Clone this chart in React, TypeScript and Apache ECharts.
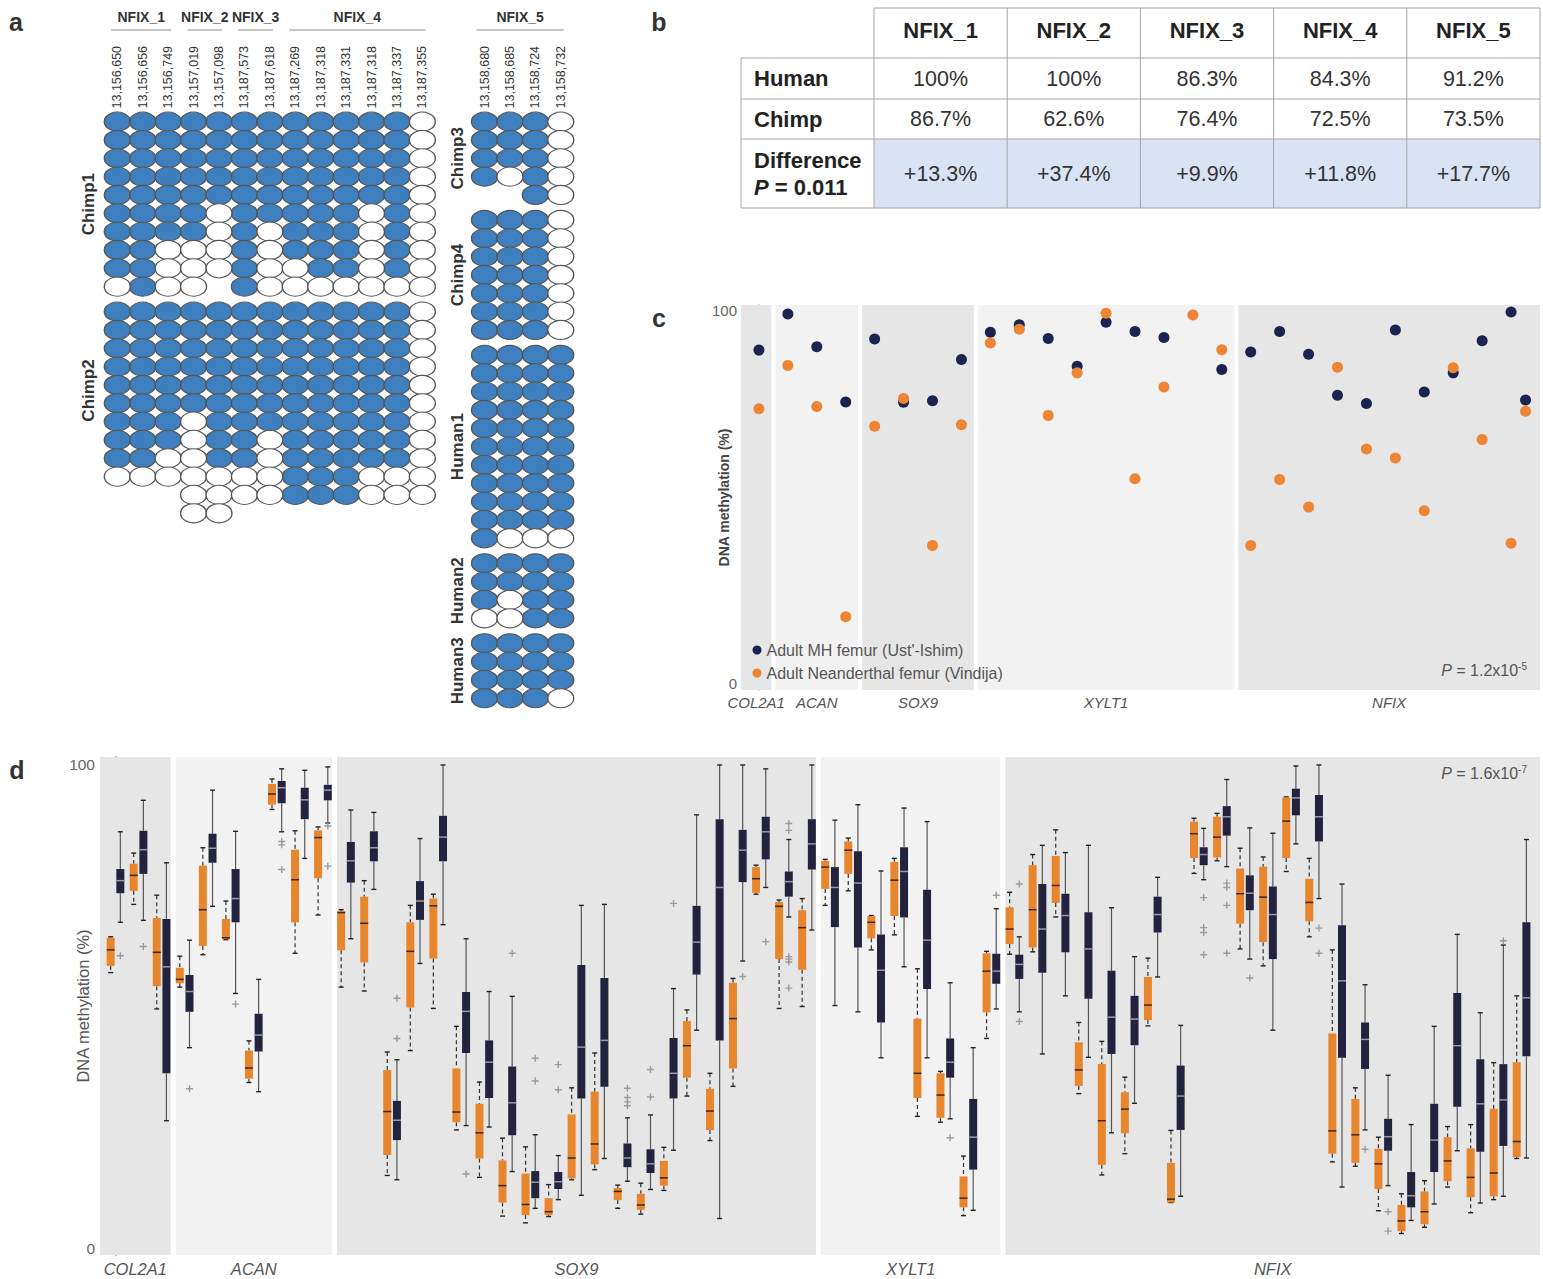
import { useEffect, useRef } from 'react';
import * as echarts from 'echarts';

const FONT = '"Liberation Sans", Arial, Helvetica, sans-serif';

// ---------------- Panel a : bisulfite clone data ----------------
const leftPositions = ['13,156,650', '13,156,656', '13,156,749', '13,157,019', '13,157,098', '13,187,573', '13,187,618', '13,187,269', '13,187,318', '13,187,331', '13,187,318', '13,187,337', '13,187,355'];
const rightPositions = ['13,158,680', '13,158,685', '13,158,724', '13,158,732'];
const leftRegions = ['NFIX_1', 'NFIX_2', 'NFIX_3', 'NFIX_4'];
const leftRegionCols = [[0, 2], [3, 4], [5, 6], [7, 12]];
const rightRegion = 'NFIX_5';
const leftSamples = ['Chimp1', 'Chimp2'];
const rightSamples = ['Chimp3', 'Chimp4', 'Human1', 'Human2', 'Human3'];
// 1 = methylated, 0 = unmethylated, x = no read
const chimp1 = ['1111111111110', '1111111111110', '1111111111110', '1111111111110', '1111111111110', '1111011111010', '1111010111010', '1100010111010', '1100010011010', '0100x10000000'];
const chimp2 = ['1111111111110', '1111111111110', '1111111111110', '1111111111110', '1111111111110', '1111111111110', '1110111111110', '1110110111110', '1100110111110', '0000000111000', 'xxx0000111000', 'xxx00xxxxxxxx'];
const chimp3 = ['1110', '1110', '1110', '1010', 'xx10'];
const chimp4 = ['1110', '1110', '1110', '1110', '1110', '1110', '1110'];
const human1 = ['1111', '1111', '1111', '1111', '1111', '1111', '1111', '1111', '1111', '1111', '1000'];
const human2 = ['1111', '1111', '1011', '0011'];
const human3 = ['1111', '1111', '1111', '1110'];

// ---------------- Panel b : table ----------------
const tableColumns = ['NFIX_1', 'NFIX_2', 'NFIX_3', 'NFIX_4', 'NFIX_5'];
const humanPct = ['100%', '100%', '86.3%', '84.3%', '91.2%'];
const chimpPct = ['86.7%', '62.6%', '76.4%', '72.5%', '73.5%'];
const diffPct = ['+13.3%', '+37.4%', '+9.9%', '+11.8%', '+17.7%'];
const diffP = '0.011';

// ---------------- Panel c ----------------
const cGenes = ['COL2A1', 'ACAN', 'SOX9', 'XYLT1', 'NFIX'];
const cGeneLastPos = [0, 3, 7, 16, 26.5];
const cPositions = [0, 1, 2, 3, 4, 5, 6, 7, 8, 9, 10, 11, 12, 13, 14, 15, 16, 17, 18, 19, 20, 21, 22, 23, 24, 25, 26, 26.5];
const mhFemur = [89.4, 99.1, 90.3, 75.5, 92.4, 75.4, 75.8, 86.9, 94.2, 96.2, 92.5, 85.1, 96.9, 94.4, 92.8, null, 84.2, 88.9, 94.4, 88.3, 77.3, 75.1, 94.8, 78.2, 83.3, 91.9, 99.6, 76.0];
const neaFemur = [73.7, 85.3, 74.3, 17.9, 69.0, 76.4, 37.0, 69.4, 91.3, 95.0, 71.9, 83.3, 99.3, 54.9, 79.5, 98.8, 89.5, 37.0, 54.7, 47.3, 84.8, 62.9, 60.5, 46.3, 84.7, 65.4, 37.6, 73.0];
const cLegend = ["Adult MH femur (Ust'-Ishim)", 'Adult Neanderthal femur (Vindija)'];

// ---------------- Panel d : [min, q1, median, q3, max] ----------------
const dGenes = ['COL2A1', 'ACAN', 'SOX9', 'XYLT1', 'NFIX'];
const dGeneCounts = [3, 7, 21, 8, 23];
const orangeBoxes = [
  [57.1, 58.5, 61.8, 64.3, 64.5], [71.2, 74.0, 77.2, 79.6, 81.8], [49.6, 54.3, 61.3, 68.4, 73.1],
  [54.1, 54.9, 55.7, 58.1, 60.5], [60.8, 62.6, 70.1, 79.2, 82.9], [63.9, 64.0, 64.3, 68.2, 71.9],
  [34.4, 35.2, 37.4, 41.0, 43.0], [90.8, 91.8, 94.0, 96.1, 97.1], [61.1, 67.5, 76.3, 82.5, 86.4],
  [69.0, 76.6, 85.0, 86.5, 87.2], [54.1, 61.7, 69.5, 69.8, 70.1], [53.3, 59.2, 67.3, 72.8, 76.1],
  [15.2, 19.4, 28.4, 37.0, 40.7], [41.0, 49.9, 61.5, 67.5, 71.0], [49.7, 60.0, 70.9, 72.4, 73.3],
  [24.6, 26.2, 28.3, 37.3, 46.0], [14.8, 18.7, 24.0, 30.0, 34.5], [6.8, 9.6, 13.1, 18.3, 22.9],
  [5.4, 7.0, 9.2, 15.6, 21.1], [6.7, 7.0, 7.7, 10.5, 13.3], [14.3, 14.6, 18.8, 27.8, 33.3],
  [16.4, 17.5, 21.7, 32.5, 40.5], [8.4, 10.1, 11.9, 12.6, 13.2], [7.2, 8.1, 9.1, 11.4, 13.6],
  [12.1, 13.1, 14.7, 18.2, 21.0], [31.6, 35.4, 42.0, 47.1, 49.4], [22.4, 24.6, 28.5, 33.1, 36.3],
  [33.6, 37.3, 47.6, 55.0, 55.9], [73.3, 73.6, 76.5, 78.9, 79.3], [49.7, 59.9, 70.8, 71.7, 72.1],
  [50.1, 57.7, 66.4, 70.0, 72.4], [71.0, 74.4, 78.9, 80.2, 80.5], [74.0, 77.5, 82.4, 84.2, 84.9],
  [61.8, 64.2, 67.5, 68.8, 68.9], [64.9, 68.8, 76.2, 80.0, 80.7], [27.4, 31.2, 36.3, 47.6, 57.9],
  [26.2, 27.1, 31.8, 36.3, 36.7], [6.9, 8.6, 10.5, 15.0, 19.2], [43.5, 48.9, 57.4, 61.1, 61.5],
  [60.9, 63.0, 66.1, 70.6, 73.7], [61.4, 62.3, 70.1, 79.3, 81.5], [68.6, 71.5, 75.1, 81.2, 86.6],
  [32.1, 33.7, 37.0, 42.7, 46.8], [15.3, 17.4, 26.5, 38.2, 42.9], [19.7, 23.9, 28.9, 32.4, 35.5],
  [46.1, 47.3, 50.4, 56.2, 60.1], [9.6, 9.6, 10.3, 17.8, 24.5], [77.6, 80.8, 85.8, 88.3, 89.0],
  [80.2, 80.9, 85.1, 89.3, 90.0], [62.0, 67.2, 73.4, 78.6, 82.8], [58.5, 63.4, 72.7, 79.0, 81.0],
  [78.0, 80.8, 88.4, 93.3, 93.4], [64.5, 67.7, 71.6, 76.5, 80.7], [18.0, 19.7, 24.4, 44.5, 61.8],
  [17.1, 17.8, 23.6, 31.0, 33.3], [7.9, 12.4, 17.6, 20.7, 23.1], [3.2, 3.7, 5.8, 9.1, 11.4],
  [4.5, 5.1, 7.7, 11.9, 14.1], [12.8, 14.0, 18.2, 23.1, 25.3], [7.5, 10.7, 14.8, 20.8, 25.7],
  [10.2, 10.9, 15.7, 29.0, 38.5], [18.7, 19.0, 22.2, 38.6, 52.3],
];
const navyBoxes = [
  [67.5, 73.5, 76.1, 78.5, 86.2], [67.9, 77.5, 82.5, 86.4, 92.7], [26.5, 36.3, 58.3, 68.2, 79.8],
  [41.6, 49.0, 53.2, 56.6, 63.8], [70.8, 79.8, 82.8, 85.8, 94.8], [52.8, 67.5, 72.4, 78.5, 86.3],
  [32.5, 40.8, 44.2, 48.6, 55.7], [86.2, 92.1, 95.3, 96.7, 99.2], [80.7, 88.8, 92.8, 95.3, 98.9],
  [88.0, 92.7, 94.8, 95.9, 99.6], [64.1, 75.7, 80.2, 84.1, 90.7], [74.3, 80.1, 82.9, 86.3, 90.2],
  [14.3, 22.5, 26.6, 30.6, 39.1], [59.0, 68.0, 71.9, 76.0, 84.8], [67.0, 80.1, 85.1, 89.5, 100],
  [25.5, 40.5, 49.1, 53.1, 64.1], [25.2, 31.2, 38.6, 43.1, 53.2], [16.0, 23.5, 30.2, 37.7, 52.2],
  [8.4, 10.5, 13.8, 16.1, 23.6], [10.2, 12.4, 13.9, 15.9, 19.3], [11.1, 31.1, 41.7, 58.7, 71.0],
  [18.7, 33.5, 43.1, 56.0, 71.2], [14.0, 16.9, 18.8, 21.8, 27.1], [12.3, 15.7, 17.6, 20.6, 27.7],
  [20.4, 31.1, 36.3, 43.6, 53.8], [45.2, 56.7, 63.4, 70.9, 89.7], [6.3, 43.1, 74.7, 88.8, 100],
  [59.5, 75.8, 82.4, 86.6, 100], [74.7, 80.5, 86.2, 89.3, 99.2], [68.6, 72.8, 75.9, 78.0, 84.6],
  [65.9, 78.4, 83.7, 88.8, 100], [50.3, 66.5, 74.7, 78.9, 88.6], [49.0, 62.3, 75.6, 82.2, 91.8],
  [39.5, 46.8, 57.6, 65.0, 78.1], [58.3, 68.5, 78.0, 83.0, 91.1], [39.5, 53.7, 63.8, 74.2, 88.3],
  [26.9, 35.4, 38.6, 43.5, 55.0], [8.0, 16.4, 23.1, 31.0, 41.6], [49.6, 54.8, 57.4, 61.0, 70.3],
  [49.0, 55.8, 58.8, 60.8, 64.5], [40.3, 57.1, 66.1, 75.4, 83.4], [52.3, 61.3, 68.9, 73.4, 81.9],
  [39.6, 51.7, 62.0, 69.6, 83.4], [24.0, 40.3, 47.9, 57.5, 70.5], [30.1, 42.1, 47.5, 52.3, 60.4],
  [56.2, 65.4, 69.1, 72.8, 76.8], [10.9, 24.6, 31.6, 37.9, 46.2], [76.3, 79.3, 81.5, 83.0, 86.9],
  [79.0, 85.4, 89.3, 91.5, 97.0], [59.9, 70.0, 73.5, 77.2, 87.0], [45.2, 59.9, 69.1, 74.9, 85.9],
  [83.7, 89.6, 93.2, 95.1, 99.8], [72.4, 84.2, 89.3, 93.8, 100], [12.8, 39.5, 55.4, 66.9, 75.4],
  [24.6, 37.2, 43.3, 46.8, 54.6], [13.1, 20.3, 23.2, 26.9, 35.9], [5.9, 8.6, 11.0, 15.9, 25.7],
  [9.3, 15.9, 22.5, 30.0, 46.0], [20.3, 29.4, 42.0, 52.9, 65.0], [9.5, 20.1, 30.0, 39.2, 48.8],
  [10.9, 21.3, 30.8, 38.2, 62.8], [18.8, 39.8, 51.9, 67.5, 84.6],
];
const outlierPairs = [0, 1, 3, 5, 7, 7, 7, 9, 9, 12, 12, 15, 17, 18, 18, 19, 19, 22, 22, 22, 22, 23, 23, 24, 27, 28, 29, 29, 29, 29, 29, 29, 36, 38, 39, 39, 47, 47, 47, 47, 48, 48, 48, 48, 49, 52, 52, 54, 55, 55, 60];
const outlierValues = [60.6, 62.5, 33.1, 50.6, 84.2, 83.5, 78.4, 87.4, 79.1, 51.8, 43.5, 15.5, 61.1, 39.4, 34.7, 38.1, 32.9, 33.2, 31.3, 30.4, 29.6, 37.1, 31.4, 71.4, 56.3, 63.5, 87.9, 86.5, 60.4, 59.9, 59.3, 53.9, 23.0, 73.1, 75.4, 47.0, 72.6, 66.4, 65.4, 60.8, 75.6, 74.7, 71.0, 61.1, 56.0, 66.3, 61.1, 20.6, 7.7, 3.7, 63.7];

// ---------------- colours / layout ----------------
const BLUE = '#3e7fc0';
const NAVY = '#23223f';
const ORANGE = '#e8862d';
const DOT_NAVY = '#1b2350';
const DOT_ORANGE = '#ee8535';
const BAND_DARK = '#e6e6e6';
const BAND_LIGHT = '#f2f2f2';

const A_LEFT = 104.6, A_TOP = 112.5, COL_W = 25.42, ROW_H = 18.33;
const GROUP_GAP = 0.364;
const RIGHT_OFFSET = 14.445;
const A_XMAX = RIGHT_OFFSET + rightPositions.length - 0.5;

function buildCells(groups: string[][], colOffset: number) {
  const filled: number[][] = [];
  const empty: number[][] = [];
  const centers: number[] = [];
  let rowBase = 0;
  groups.forEach((rows, g) => {
    const start = rowBase + g * GROUP_GAP;
    rows.forEach((row, r) => {
      row.split('').forEach((ch, c) => {
        if (ch === 'x') return;
        (ch === '1' ? filled : empty).push([c + colOffset, start + r]);
      });
    });
    centers.push(start + (rows.length - 1) / 2);
    rowBase += rows.length;
  });
  return { filled, empty, centers, total: rowBase + (groups.length - 1) * GROUP_GAP };
}

function bands(lastPos: number[], names: string[], xmin: number, xmax: number, gap: number) {
  return lastPos.map((lp, i) => {
    const a = i === 0 ? xmin : lastPos[i - 1] + 0.5 + gap;
    const b = i === lastPos.length - 1 ? xmax : lp + 0.5 - gap;
    return [
      { name: names[i], xAxis: a, itemStyle: { color: i % 2 === 0 ? BAND_DARK : BAND_LIGHT } },
      { xAxis: b },
    ];
  });
}

function boxSeries(name: string, boxes: number[][], offset: number, fill: string, medColor: string, whiskerColor: string, dashed: boolean, markArea?: any) {
  return {
    type: 'custom',
    name,
    xAxisIndex: 2,
    yAxisIndex: 2,
    silent: true,
    z: 3,
    data: boxes.map((b, k) => [k + offset, ...b]),
    encode: { x: 0, y: [1, 2, 3, 4, 5] },
    markArea,
    renderItem: (_p: any, api: any) => {
      const x = api.value(0);
      const lo = api.coord([x, api.value(1)]);
      const q1 = api.coord([x, api.value(2)]);
      const md = api.coord([x, api.value(3)]);
      const q3 = api.coord([x, api.value(4)]);
      const hi = api.coord([x, api.value(5)]);
      const cx = lo[0];
      const hw = 4;
      const wStyle = { stroke: whiskerColor, lineWidth: 1.2, lineDash: dashed ? [4, 3] : null };
      const cStyle = { stroke: '#222', lineWidth: 1.4 };
      return {
        type: 'group',
        children: [
          { type: 'line', shape: { x1: cx, y1: hi[1], x2: cx, y2: q3[1] }, style: wStyle },
          { type: 'line', shape: { x1: cx, y1: q1[1], x2: cx, y2: lo[1] }, style: wStyle },
          { type: 'line', shape: { x1: cx - 2.5, y1: hi[1], x2: cx + 2.5, y2: hi[1] }, style: cStyle },
          { type: 'line', shape: { x1: cx - 2.5, y1: lo[1], x2: cx + 2.5, y2: lo[1] }, style: cStyle },
          { type: 'rect', shape: { x: cx - hw, y: q3[1], width: hw * 2, height: Math.max(1, q1[1] - q3[1]) }, style: { fill } },
          { type: 'line', shape: { x1: cx - hw, y1: md[1], x2: cx + hw, y2: md[1] }, style: { stroke: medColor, lineWidth: 1.5 } },
        ],
      };
    },
  };
}

function txt(text: string, x: number, y: number, o: any = {}) {
  const { rotation, ...style } = o;
  return {
    type: 'text',
    x,
    y,
    rotation: rotation || 0,
    silent: true,
    z: 10,
    style: {
      text,
      fill: '#333',
      fontFamily: FONT,
      fontSize: 14,
      textAlign: 'center',
      textVerticalAlign: 'middle',
      ...style,
    },
  };
}

function ln(x1: number, y1: number, x2: number, y2: number, stroke = '#a6a6a6', lineWidth = 1) {
  return { type: 'line', silent: true, z: 10, shape: { x1, y1, x2, y2 }, style: { stroke, lineWidth } };
}

export default function App() {
  const ref = useRef<HTMLDivElement>(null);

  useEffect(() => {
    if (!ref.current) return;
    const chart = echarts.init(ref.current, undefined, { renderer: 'svg' });

    // ---- panel a cells
    const L = buildCells([chimp1, chimp2], 0);
    const R = buildCells([chimp3, chimp4, human1, human2, human3], RIGHT_OFFSET);
    const aYMax = Math.max(L.total, R.total) - 0.5;
    const colPx = (c: number) => A_LEFT + (c + 0.5) * COL_W;
    const rowPx = (r: number) => A_TOP + (r + 0.5) * ROW_H;
    const aLabelVals = [...leftPositions.map((_, i) => i), ...rightPositions.map((_, i) => i + RIGHT_OFFSET)];
    const aLabelTexts = [...leftPositions, ...rightPositions];

    const graphics: any[] = [];
    // panel letters
    graphics.push(txt('a', 16, 22, { fontSize: 25, fontWeight: 'bold', fill: '#333' }));
    graphics.push(txt('b', 659, 22, { fontSize: 25, fontWeight: 'bold', fill: '#333' }));
    graphics.push(txt('c', 659, 318, { fontSize: 25, fontWeight: 'bold', fill: '#333' }));
    graphics.push(txt('d', 17, 770, { fontSize: 25, fontWeight: 'bold', fill: '#333' }));

    // panel a headers
    leftRegions.forEach((r, i) => {
      const [c0, c1] = leftRegionCols[i];
      const x1 = colPx(c0) - 6, x2 = colPx(c1) + 3;
      graphics.push(ln(x1, 30, x2, 30, '#8c8c8c', 1));
      graphics.push(txt(r, (x1 + x2) / 2, 17, { fontSize: 14, fontWeight: 'bold' }));
    });
    {
      const x1 = colPx(RIGHT_OFFSET) - 8, x2 = colPx(RIGHT_OFFSET + rightPositions.length - 1) + 3;
      graphics.push(ln(x1, 30, x2, 30, '#8c8c8c', 1));
      graphics.push(txt(rightRegion, (x1 + x2) / 2, 17, { fontSize: 14, fontWeight: 'bold' }));
    }
    // sample labels
    const leftAdjust = [0, -1.2];
    leftSamples.forEach((s, i) => {
      graphics.push(txt(s, 88, rowPx(L.centers[i] + leftAdjust[i]), { rotation: Math.PI / 2, fontSize: 17, fontWeight: 'bold' }));
    });
    rightSamples.forEach((s, i) => {
      graphics.push(txt(s, 457, rowPx(R.centers[i]), { rotation: Math.PI / 2, fontSize: 17, fontWeight: 'bold' }));
    });

    // ---- panel b table
    const TX = [741, 874, 1007.2, 1140.4, 1273.6, 1406.8, 1540];
    const TY = [8, 58, 99, 139, 208];
    graphics.push({ type: 'rect', silent: true, z: 9, shape: { x: TX[1], y: TY[3], width: TX[6] - TX[1], height: TY[4] - TY[3] }, style: { fill: '#dae3f3' } });
    graphics.push(ln(TX[1], TY[0], TX[6], TY[0]));
    for (let r = 1; r < TY.length; r++) graphics.push(ln(TX[0], TY[r], TX[6], TY[r]));
    graphics.push(ln(TX[0], TY[1], TX[0], TY[4]));
    for (let c = 1; c < TX.length; c++) graphics.push(ln(TX[c], TY[0], TX[c], TY[4]));
    const rowMid = (r: number) => (TY[r] + TY[r + 1]) / 2;
    tableColumns.forEach((h, i) => {
      const cx = (TX[i + 1] + TX[i + 2]) / 2;
      graphics.push(txt(h, cx, rowMid(0) - 2.5, { fontSize: 22, fontWeight: 'bold', fill: '#222' }));
      graphics.push(txt(humanPct[i], cx, rowMid(1), { fontSize: 21.5, fill: '#333' }));
      graphics.push(txt(chimpPct[i], cx, rowMid(2), { fontSize: 21.5, fill: '#333' }));
      graphics.push(txt(diffPct[i], cx, rowMid(3), { fontSize: 21.5, fill: '#333' }));
    });
    graphics.push(txt('Human', 754, rowMid(1), { fontSize: 22, fontWeight: 'bold', fill: '#222', textAlign: 'left' }));
    graphics.push(txt('Chimp', 754, rowMid(2), { fontSize: 22, fontWeight: 'bold', fill: '#222', textAlign: 'left' }));
    graphics.push(txt('Difference', 754, 160, { fontSize: 22, fontWeight: 'bold', fill: '#222', textAlign: 'left' }));
    graphics.push(txt('{i|P} = ' + diffP, 754, 187, {
      fontSize: 22, fontWeight: 'bold', fill: '#222', textAlign: 'left',
      rich: { i: { fontStyle: 'italic', fontWeight: 'bold', fontSize: 22, fill: '#222', fontFamily: FONT } },
    }));

    // P-values for c and d
    const pRich = {
      i: { fontStyle: 'italic', fontSize: 16, fill: '#555', fontFamily: FONT },
      s: { fontSize: 10, fill: '#555', fontFamily: FONT, verticalAlign: 'top', lineHeight: 10 },
    };
    graphics.push(txt('{i|P} = 1.2x10{s|-5}', 1527, 670, { fontSize: 16, fill: '#555', textAlign: 'right', lineHeight: 18, rich: pRich }));
    graphics.push(txt('{i|P} = 1.6x10{s|-7}', 1527, 773, { fontSize: 16, fill: '#555', textAlign: 'right', lineHeight: 18, rich: pRich }));

    // ---- panel c
    const C_XMIN = -0.62, C_XMAX = 27;
    const cBandData = bands(cGeneLastPos, cGenes, C_XMIN, C_XMAX, 0.07);
    const mhData = cPositions.map((p, i) => [p, mhFemur[i]]).filter((d) => d[1] !== null);
    const neaData = cPositions.map((p, i) => [p, neaFemur[i]]).filter((d) => d[1] !== null);

    // ---- panel d
    const D_XMIN = -0.672, D_XMAX = 61.8;
    const dLast: number[] = [];
    dGeneCounts.reduce((acc, n) => { dLast.push(acc + n - 1); return acc + n; }, 0);
    const dBandData = bands(dLast, dGenes, D_XMIN, D_XMAX, 0.11);

    const option: any = {
      animation: false,
      backgroundColor: '#ffffff',
      textStyle: { fontFamily: FONT },
      grid: [
        { left: A_LEFT, top: A_TOP, width: (A_XMAX + 0.5) * COL_W, height: (aYMax + 0.5) * ROW_H },
        { left: 741, top: 305, width: 799, height: 385 },
        { left: 100, top: 757, width: 1440, height: 498 },
      ],
      xAxis: [
        {
          gridIndex: 0, type: 'value', position: 'top', min: -0.5, max: A_XMAX,
          axisLine: { show: false }, axisTick: { show: false }, splitLine: { show: false },
          axisLabel: {
            customValues: aLabelVals, rotate: 90, fontSize: 12.5, color: '#333', margin: 4, fontFamily: FONT,
            formatter: (v: number) => {
              const idx = aLabelVals.findIndex((p) => Math.abs(p - v) < 1e-6);
              return idx >= 0 ? aLabelTexts[idx] : '';
            },
          },
        },
        { gridIndex: 1, type: 'value', min: C_XMIN, max: C_XMAX, show: false },
        { gridIndex: 2, type: 'value', min: D_XMIN, max: D_XMAX, show: false },
      ],
      yAxis: [
        { gridIndex: 0, type: 'value', inverse: true, min: -0.5, max: aYMax, show: false },
        {
          gridIndex: 1, type: 'value', min: -1.74, max: 101.5,
          axisLine: { show: true, lineStyle: { color: '#b5b5b5', width: 1.5 } },
          axisTick: { show: false }, splitLine: { show: false },
          axisLabel: { customValues: [0, 100], fontSize: 15, color: '#666', margin: 4, fontFamily: FONT },
          name: 'DNA methylation (%)', nameLocation: 'middle', nameGap: 10, nameMoveOverlap: false,
          nameTextStyle: { fontSize: 14, fontWeight: 'bold', color: '#444', fontFamily: FONT },
        },
        {
          gridIndex: 2, type: 'value', min: -1.24, max: 101.65,
          axisLine: { show: true, lineStyle: { color: '#aaaaaa', width: 2 } },
          axisTick: { show: false }, splitLine: { show: false },
          axisLabel: { customValues: [0, 100], fontSize: 15.5, color: '#666', margin: 5, fontFamily: FONT },
          name: 'DNA methylation (%)', nameLocation: 'middle', nameGap: 9, nameMoveOverlap: false,
          nameTextStyle: { fontSize: 16.5, color: '#555', fontFamily: FONT },
        },
      ],
      legend: {
        data: cLegend, orient: 'vertical', left: 752.5, top: 642, padding: 0,
        icon: 'circle', itemWidth: 9, itemHeight: 9, itemGap: 7, selectedMode: false,
        textStyle: { fontSize: 16, color: '#555', fontFamily: FONT, lineHeight: 16 },
      },
      series: [
        {
          type: 'scatter', name: 'methylated', xAxisIndex: 0, yAxisIndex: 0, silent: true,
          symbol: 'circle', symbolSize: [26, 19], data: L.filled.concat(R.filled),
          itemStyle: { color: BLUE, borderColor: '#555', borderWidth: 1.2, opacity: 1 },
        },
        {
          type: 'scatter', name: 'unmethylated', xAxisIndex: 0, yAxisIndex: 0, silent: true,
          symbol: 'circle', symbolSize: [26, 19], data: L.empty.concat(R.empty),
          itemStyle: { color: '#ffffff', borderColor: '#555', borderWidth: 1.2, opacity: 1 },
        },
        {
          type: 'scatter', name: cLegend[0], xAxisIndex: 1, yAxisIndex: 1, silent: true,
          symbol: 'circle', symbolSize: 11, data: mhData, itemStyle: { color: DOT_NAVY, opacity: 1 },
          markArea: {
            silent: true, data: cBandData,
            label: { show: true, position: 'bottom', distance: 5, color: '#555', fontStyle: 'italic', fontSize: 15, fontFamily: FONT },
          },
        },
        {
          type: 'scatter', name: cLegend[1], xAxisIndex: 1, yAxisIndex: 1, silent: true,
          symbol: 'circle', symbolSize: 11, data: neaData, itemStyle: { color: DOT_ORANGE, opacity: 1 },
        },
        boxSeries('Neanderthal', orangeBoxes, -0.21, ORANGE, '#3a2a1e', '#333', true, {
          silent: true, data: dBandData,
          label: { show: true, position: 'bottom', distance: 5, color: '#555', fontStyle: 'italic', fontSize: 16.5, fontFamily: FONT },
        }),
        boxSeries('Modern human', navyBoxes, 0.21, NAVY, '#9a9aa6', '#555', false),
        {
          type: 'scatter', name: 'outliers', xAxisIndex: 2, yAxisIndex: 2, silent: true, z: 4,
          symbol: 'path://M4,0H6V4H10V6H6V10H4V6H0V4H4Z', symbolSize: 7,
          data: outlierPairs.map((k, i) => [k + 0.21, outlierValues[i]]),
          itemStyle: { color: '#9c9c9c', opacity: 1 },
        },
      ],
      graphic: graphics,
    };

    chart.setOption(option);
    return () => chart.dispose();
  }, []);

  return <div ref={ref} style={{ position: 'absolute', left: 0, top: 0, width: 1543, height: 1279, background: '#fff' }} />;
}
